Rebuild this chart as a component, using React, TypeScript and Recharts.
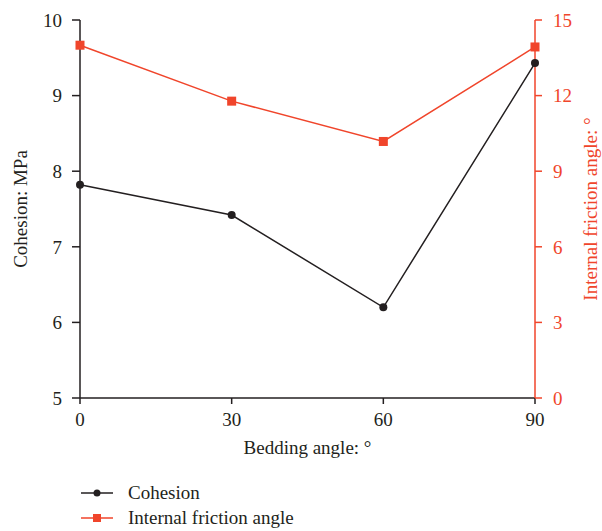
import { LineChart, Line, XAxis, YAxis, Label } from 'recharts';

const RED = '#f0452b';
const BLACK = '#231f20';
const FONT = '"Liberation Serif", "DejaVu Serif", serif';

const angles = [0, 30, 60, 90];
const cohesion = [7.82, 7.42, 6.2, 9.43];
const friction = [14.0, 11.78, 10.18, 13.93];
const leftTicks = [5, 6, 7, 8, 9, 10];
const rightTicks = [0, 3, 6, 9, 12, 15];

const data = angles.map((a, i) => ({ angle: a, cohesion: cohesion[i], friction: friction[i] }));

const Square = (props: any) => {
    const { cx, cy } = props;
    if (cx == null || cy == null) return null;
    return <rect x={cx - 4.5} y={cy - 4.5} width={9} height={9} fill={RED} />;
};

const LegendBox = () => (
    <div style={{ position: 'absolute', left: 81, top: 480, fontFamily: FONT, fontSize: 19, color: BLACK }}>
        <div style={{ display: 'flex', alignItems: 'center', height: 25 }}>
            <svg width={34} height={12} style={{ marginRight: 13 }}>
                <line x1={0} y1={6} x2={32} y2={6} stroke={BLACK} strokeWidth={1.5} />
                <circle cx={16} cy={6} r={3.5} fill={BLACK} />
            </svg>
            <span>Cohesion</span>
        </div>
        <div style={{ display: 'flex', alignItems: 'center', height: 25 }}>
            <svg width={34} height={12} style={{ marginRight: 13 }}>
                <line x1={0} y1={6} x2={32} y2={6} stroke={RED} strokeWidth={1.5} />
                <rect x={12} y={2} width={8} height={8} fill={RED} />
            </svg>
            <span>Internal friction angle</span>
        </div>
    </div>
);

export default function App() {
    return (
        <div style={{ position: 'absolute', left: 0, top: 0, width: 602, height: 531, background: '#fff' }}>
            <LineChart width={602} height={531} data={data} margin={{ top: 20, right: 0, left: 0, bottom: 73 }}>
                <XAxis
                    dataKey="angle"
                    type="number"
                    domain={[0, 90]}
                    ticks={angles}
                    tickSize={6}
                    tickMargin={9}
                    height={60}
                    stroke={BLACK}
                    strokeWidth={1.5}
                    tick={{ fill: BLACK, fontSize: 19, fontFamily: FONT }}
                >
                    <Label value="Bedding angle: °" position="insideBottom" offset={4} fill={BLACK} fontSize={19} fontFamily={FONT} />
                </XAxis>
                <YAxis
                    yAxisId="left"
                    domain={[5, 10]}
                    ticks={leftTicks}
                    width={80}
                    tickSize={8}
                    tickMargin={10}
                    stroke={BLACK}
                    strokeWidth={1.5}
                    tick={{ fill: BLACK, fontSize: 19, fontFamily: FONT }}
                >
                    <Label value="Cohesion: MPa" angle={-90} position="center" dx={-20} fill={BLACK} fontSize={19} fontFamily={FONT} />
                </YAxis>
                <YAxis
                    yAxisId="right"
                    orientation="right"
                    domain={[0, 15]}
                    ticks={rightTicks}
                    width={67}
                    tickSize={7}
                    tickMargin={11}
                    stroke={RED}
                    strokeWidth={1.5}
                    tick={{ fill: RED, fontSize: 19, fontFamily: FONT }}
                >
                    <Label value="Internal friction angle: °" angle={-90} position="center" dx={22} fill={RED} fontSize={19} fontFamily={FONT} />
                </YAxis>
                <Line
                    yAxisId="left"
                    dataKey="cohesion"
                    stroke={BLACK}
                    strokeWidth={1.5}
                    dot={{ r: 4, fill: BLACK, stroke: BLACK, strokeWidth: 0 }}
                    isAnimationActive={false}
                />
                <Line
                    yAxisId="right"
                    dataKey="friction"
                    stroke={RED}
                    strokeWidth={1.5}
                    dot={<Square />}
                    isAnimationActive={false}
                />
            </LineChart>
            <LegendBox />
        </div>
    );
}
